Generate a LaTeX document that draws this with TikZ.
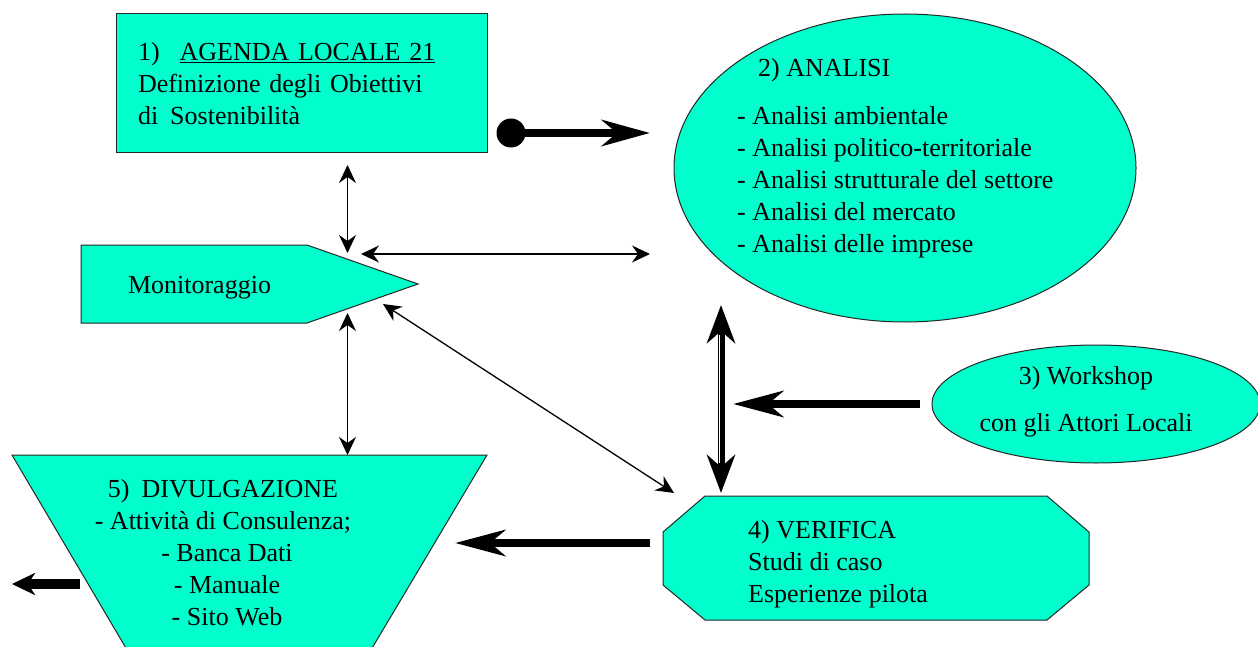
\documentclass[tikz,border=0pt]{standalone}
\usepackage{fontspec}
\setmainfont{Liberation Serif}
\usetikzlibrary{calc,positioning,arrows.meta,shapes.geometric}
\definecolor{acqua}{RGB}{0,255,204}
\tikzset{
  blocco/.style={
      draw=black!85,
      fill=acqua,
      line width=1pt,
  },
  testo/.style={
      font=\fontsize{26}{32}\selectfont,
      inner sep=0pt,
  },
  freccina/.style={
      {Stealth[length=18pt,width=17pt,inset=6pt]}-{Stealth[length=18pt,width=17pt,inset=6pt]},
      line width=1.3pt,
  },
  freccione/.style={
      -{Stealth[length=#1,width=26pt,inset=15pt]},
      line width=8.5pt,
  },
  freccione/.default=48pt
}

\begin{document}
\begin{tikzpicture}[x=1pt,y=-1pt]
  \useasboundingbox (0,0) rectangle (1258,647);
  \clip (0,0) rectangle (1258,647);

  % 1) agenda locale
  \node[blocco, testo, align=left, text width=327pt, inner xsep=22pt,
        minimum height=139pt] (agenda) at (301.5,83.5)
      {1)\hspace{20pt}\underline{AGENDA LOCALE 21}\\
       Definizione degli Obiettivi\\
       di\hspace{12pt}Sostenibilità};

  % 2) analisi
  \node[blocco, ellipse, minimum width=462pt, minimum height=308pt,
        inner sep=0pt] (analisi) at (905,168) {};
  \node[testo, align=left, anchor=west] (analisitesto) at (737,158)
      {\hspace*{21pt}2) ANALISI\\[16pt]
       - Analisi ambientale\\
       - Analisi politico-territoriale\\
       - Analisi strutturale del settore\\
       - Analisi del mercato\\
       - Analisi delle imprese};

  % 3) workshop
  \node[blocco, ellipse, minimum width=328pt, minimum height=118pt,
        inner sep=0pt] (workshop) at (1096,404) {};
  \node[testo, align=center] (workshoptesto) at (1086,402)
      {3) Workshop\\[15pt]con gli Attori Locali};

  % monitoraggio
  \filldraw[blocco] (81,245) -- (307,245) -- (418,284) -- (307,323)
      -- (81,323) -- cycle;
  \node[testo] (monitor) at (199.5,288) {Monitoraggio};

  % 4) verifica
  \filldraw[blocco] (705,496) -- (1047,496) -- (1089,532) -- (1089,585)
      -- (1047,620) -- (705,620) -- (663,585) -- (663,532) -- cycle;
  \node[testo, align=left, anchor=west] (verifica) at (748,564)
      {4) VERIFICA\\Studi di caso\\Esperienze pilota};

  % 5) divulgazione
  \filldraw[blocco] (12,455) -- (487,455) -- (365,660) -- (133,660) -- cycle;
  \node[testo, align=center] (divulga) at (223,553)
      {5)\hspace{12pt}DIVULGAZIONE\\
       - Attività di Consulenza;\\
       \hspace*{8pt}- Banca Dati\\
       \hspace*{8pt}- Manuale\\
       \hspace*{8pt}- Sito Web};

  % estremi dei collegamenti
  \coordinate (a-giu)   at (347.5,165);
  \coordinate (m-su)    at (347.5,253);
  \coordinate (m-dx)    at (361,254);
  \coordinate (an-sx)   at (650,254);
  \coordinate (m-giu)   at (347.5,313);
  \coordinate (d-su)    at (347.5,455);
  \coordinate (m-diag)  at (383,304);
  \coordinate (v-diag)  at (674,493);
  \coordinate (an-in)   at (650,133);
  \coordinate (an-giu)  at (721,305);
  \coordinate (v-su)    at (721,493);
  \coordinate (w-sx)    at (920,404);
  \coordinate (w-punta) at (733,404);
  \coordinate (v-sx)    at (650,543);
  \coordinate (d-dx)    at (455,543);
  \coordinate (d-sx)    at (80,584);
  \coordinate (d-fuori) at (12,584);

  \draw[freccina] (a-giu) -- (m-su);
  \draw[freccina] (m-dx) -- (an-sx);
  \draw[freccina] (m-giu) -- (d-su);
  \draw[freccina] (m-diag) -- (v-diag);

  \node[circle, fill=black, minimum size=29pt, inner sep=0pt] (palla) at (511,133) {};
  \draw[freccione] (palla.center) -- (an-in);

  \draw[{Stealth[length=38pt,width=28pt,inset=12pt]}-{Stealth[length=38pt,width=28pt,inset=12pt]},
        line width=7pt] (an-giu) -- (v-su);
  \draw[white, line width=0.8pt] ($(an-giu)+(-1.8,30)$) -- ($(v-su)+(-1.8,-30)$);

  \draw[freccione=50pt] (w-sx) -- (w-punta);
  \draw[freccione=50pt] (v-sx) -- (d-dx);
  \draw[-{Stealth[length=23pt,width=22pt,inset=7pt]}, line width=10pt] (d-sx) -- (d-fuori);
\end{tikzpicture}
\end{document}
